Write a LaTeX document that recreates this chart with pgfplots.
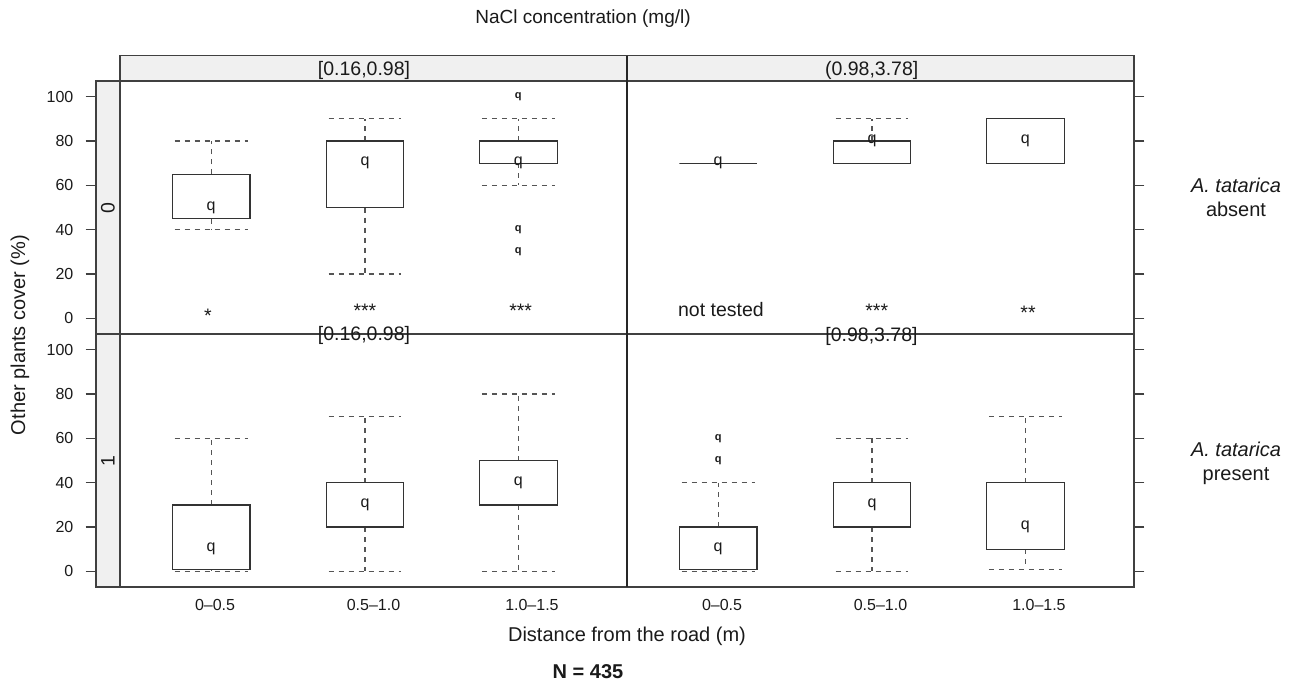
\documentclass[border=0pt]{standalone}
\usepackage{fontspec}
\setmainfont{Liberation Sans}
\usepackage{pgfplots}
\pgfplotsset{compat=1.18}
\usepgfplotslibrary{statistics}

\definecolor{stripgray}{HTML}{F0F0F0}
\definecolor{framecol}{HTML}{404040}
\definecolor{boxcol}{HTML}{333333}
\definecolor{whiskcol}{HTML}{555555}
\definecolor{txt}{HTML}{1A1A1A}

\tikzset{
  big/.style={font=\fontsize{10}{12}\selectfont, text=txt, inner sep=0pt},
  strip/.style={font=\fontsize{9.75}{11}\selectfont, text=txt, inner sep=0pt},
}

\pgfplotsset{
  panel/.style={
    scale only axis, width=253.5pt, height=126.5pt, anchor=south west,
    xmin=0.4, xmax=3.6, ymin=-7, ymax=107,
    ytick={0,20,...,100}, xtick=\empty,
    axis line style={draw=framecol, line width=0.6pt},
    tick style={draw=framecol, line width=0.6pt},
    major tick length=5.2pt, tick align=outside,
    ticklabel style={font=\fontsize{8}{9.6}\selectfont, text=txt},
    yticklabel style={xshift=-2.6pt},
    /pgf/number format/assume math mode=true,
    boxplot/draw direction=y,
    boxplot/box extend=0.49,
    boxplot/whisker extend=0.46,
    boxplot/every median/.style={draw=none},
    boxplot/every box/.style={draw=boxcol, line width=0.6pt},
    boxplot/every whisker/.style={draw=whiskcol, line width=0.6pt, dash pattern=on 2.5pt off 2.5pt},
  },
  rightcol/.style={ytick pos=right, yticklabel style={text opacity=0}},
  bottomrow/.style={
    xtick={1,2,3}, xticklabels={0–0.5, 0.5–1.0, 1.0–1.5},
    xtick style={draw=none}, xticklabel style={yshift=2.6pt},
  },
  med/.style={only marks, mark=text, text mark={q}, text mark as node=true,
    text mark style={font=\fontsize{8}{9}\selectfont, text=txt, inner sep=0pt}},
  outl/.style={only marks, mark=text, text mark={\textbf{q}}, text mark as node=true,
    text mark style={font=\fontsize{5.5}{6}\selectfont, text=txt, inner sep=0pt}},
}

% draw position, lower whisker, lower quartile, median, upper quartile, upper whisker
\newcommand{\bx}[6]{\addplot[draw=boxcol, boxplot prepared={draw position=#1,
  lower whisker=#2, lower quartile=#3, median=#4, upper quartile=#5, upper whisker=#6}] coordinates {};}

\begin{document}
\begin{tikzpicture}
\useasboundingbox (0,0) rectangle (646.5pt,-341pt);

% row 0, [0.16,0.98]
\begin{axis}[panel, at={(48pt,-167pt)}, width=265.5pt, xmin=0.24852, ytick pos=left]
\bx{0.975}{40}{45}{50}{65}{80}
\bx{1.946}{20}{50}{70}{80}{90}
\bx{2.914}{60}{70}{70}{80}{90}
\addplot[med] coordinates {(0.975,50) (1.946,70) (2.914,70)};
\addplot[outl] coordinates {(2.914,100) (2.914,40) (2.914,30)};
\node[strip, anchor=base] at (axis cs:0.955,-1.8) {*};
\node[strip, anchor=base] at (axis cs:1.946,0.3) {***};
\node[strip, anchor=base] at (axis cs:2.929,0.3) {***};
\end{axis}

% row 0, (0.98,3.78]
\begin{axis}[panel, rightcol, at={(313.5pt,-167pt)}]
\bx{0.975}{70}{70}{70}{70}{70}
\bx{1.946}{70}{70}{80}{80}{90}
\bx{2.914}{70}{70}{80}{90}{90}
\addplot[med] coordinates {(0.975,70) (1.946,80) (2.914,80)};
\node[strip, anchor=base] at (axis cs:0.993,1.0) {not tested};
\node[strip, anchor=base] at (axis cs:1.976,0.45) {***};
\node[strip, anchor=base] at (axis cs:2.931,-0.3) {**};
\end{axis}

% row 1, [0.16,0.98]
\begin{axis}[panel, bottomrow, at={(48pt,-293.5pt)}, width=265.5pt, xmin=0.24852, ytick pos=left]
\bx{0.975}{0}{1}{10}{30}{60}
\bx{1.946}{0}{20}{30}{40}{70}
\bx{2.914}{0}{30}{40}{50}{80}
\addplot[med] coordinates {(0.975,10) (1.946,30) (2.914,40)};
\end{axis}

% row 1, (0.98,3.78]
\begin{axis}[panel, bottomrow, rightcol, at={(313.5pt,-293.5pt)}]
\bx{0.975}{0}{1}{10}{20}{40}
\bx{1.946}{0}{20}{30}{40}{60}
\bx{2.914}{1}{10}{20}{40}{70}
\addplot[med] coordinates {(0.975,10) (1.946,30) (2.914,20)};
\addplot[outl] coordinates {(0.975,60) (0.975,50)};
\end{axis}

% strips
\filldraw[fill=stripgray, draw=framecol, line width=0.6pt] (60pt,-27.85pt) rectangle (567pt,-40.5pt);
\filldraw[fill=stripgray, draw=framecol, line width=0.6pt] (48pt,-40.5pt) rectangle (60pt,-293.5pt);
\draw[framecol, line width=0.7pt] (48pt,-167pt) -- (567pt,-167pt);
\draw[black!85, line width=0.9pt] (313.5pt,-27.85pt) -- (313.5pt,-293.5pt);

\node[strip] at (182pt,-35pt) {[0.16,0.98]};
\node[strip] at (435.85pt,-35pt) {(0.98,3.78]};
\node[strip] at (182pt,-167.75pt) {[0.16,0.98]};
\node[strip] at (435.75pt,-168.3pt) {[0.98,3.78]};
\node[strip, rotate=90] at (54pt,-104pt) {0};
\node[strip, rotate=90] at (54pt,-230.5pt) {1};

% titles and labels
\node[big, font=\fontsize{9.5}{11}\selectfont] at (291.5pt,-9.5pt) {NaCl concentration (mg/l)};
\node[big, rotate=90] at (10pt,-167.5pt) {Other plants cover (\%)};
\node[big] at (313.5pt,-318pt) {Distance from the road (m)};
\node[big, font=\fontsize{10}{12}\selectfont\bfseries] at (294pt,-336pt) {N = 435};
\node[big, align=center] at (618pt,-98.5pt) {\textit{A. tatarica}\\absent};
\node[big, align=center] at (618pt,-231.5pt) {\textit{A. tatarica}\\present};
\end{tikzpicture}
\end{document}
